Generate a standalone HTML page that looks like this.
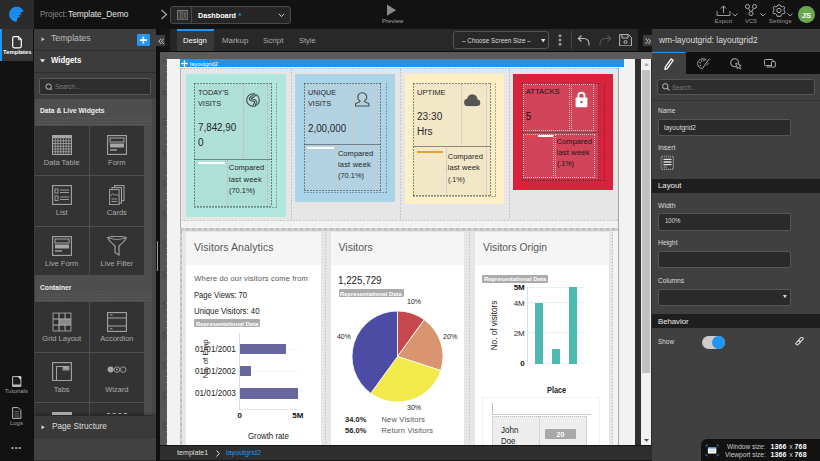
<!DOCTYPE html>
<html><head><meta charset="utf-8"><title>Dashboard</title>
<style>
*{margin:0;padding:0;box-sizing:border-box}
html,body{width:820px;height:461px;overflow:hidden;background:#121212;font-family:"Liberation Sans",Arial,sans-serif}
body>div,body>svg{position:absolute}
.t{white-space:nowrap}
</style></head><body>
<div style="left:0px;top:0px;width:820px;height:28.6px;background:#121212;"></div>
<div style="left:0px;top:0px;width:33.7px;height:28.6px;background:#2b2b2b;"></div>
<svg style="left:8px;top:5px;" width="18" height="18" viewBox="0 0 18 18"><path d="M9.5 1.75 A7.5 7.5 0 0 1 16.2 6.3 L16.4 6.6 L13.2 7.3 L14.3 9.3 L11.8 10 L12.5 12.3 L10.2 12.8 L9.2 16.8 A7.5 7.5 0 0 1 9.5 1.75 Z" fill="#1e8ff0" transform="translate(-0.7 0)"/>
<g fill="none" stroke="#1a74c8" stroke-width="0.55" opacity="0.9"><path d="M3.2 6.2 Q7.5 2.8 14.8 5.6"/><path d="M2.6 9.6 Q7 5.4 13.2 8.4"/><path d="M3.3 12.8 Q7.5 8.8 11.6 11.2"/></g></svg>
<div class="t" style="left:39.5px;top:10px;font-size:9px;line-height:9px;color:#8a8a8a;transform:scaleX(0.885);transform-origin:0 0;">Project:</div>
<div class="t" style="left:68.4px;top:10px;font-size:9px;line-height:9px;color:#e6e6e6;transform:scaleX(0.9218);transform-origin:0 0;">Template_Demo</div>
<svg style="left:160px;top:9px;" width="8" height="11" viewBox="0 0 8 11"><path d="M1.5 1 L6.5 5.5 L1.5 10" fill="none" stroke="#aaa" stroke-width="1.2"/></svg>
<div style="left:170.3px;top:6.3px;width:120.7px;height:17.6px;background:#262626;border:1px solid #4a4a4a;border-radius:3px;"></div>
<div style="left:191px;top:7px;width:1px;height:16.2px;background:#4a4a4a;"></div>
<svg style="left:176.9px;top:9.8px;" width="11.2" height="10.3" viewBox="0 0 11.2 10.3"><rect x="0.5" y="0.5" width="10.2" height="9.3" fill="#3a3a3a" stroke="#777" stroke-width="1"/><path d="M3.3 1 V9.5 M5.3 1 V9.5" stroke="#6a6a6a" stroke-width="1"/><path d="M6.8 2 L9.3 8.5 M9.3 2 L6.8 8.5" stroke="#6a6a6a" stroke-width="0.8"/></svg>
<div class="t" style="left:197.9px;top:12px;font-size:8px;line-height:8px;color:#ffffff;font-weight:bold;transform:scaleX(0.9071);transform-origin:0 0;">Dashboard</div>
<div class="t" style="left:238.3px;top:12px;font-size:8px;line-height:8px;color:#2196f3;font-weight:bold;">*</div>
<svg style="left:278px;top:13px;" width="7" height="5" viewBox="0 0 7 5"><path d="M0.8 0.8 L3.5 3.6 L6.2 0.8" fill="none" stroke="#ccc" stroke-width="1"/></svg>
<svg style="left:386px;top:4px;" width="11" height="13" viewBox="0 0 11 13"><path d="M1 0.6 L10 6.2 L1 11.8 Z" fill="#8a8a8a"/></svg>
<div class="t" style="left:381.8px;top:18px;font-size:6.2px;line-height:6.2px;color:#a6a6a6;transform:scaleX(0.9705);transform-origin:0 0;">Preview</div>
<svg style="left:716px;top:5px;" width="15" height="12" viewBox="0 0 15 12"><path d="M1 6 V10.5 H14 V6" fill="none" stroke="#a2a2a2" stroke-width="0.95"/><path d="M7.5 8 V1 M4.8 3.6 L7.5 0.9 L10.2 3.6" fill="none" stroke="#aaa" stroke-width="1"/></svg>
<svg style="left:732px;top:13px;" width="6" height="4" viewBox="0 0 6 4"><path d="M0.5 0.5 L3 3 L5.5 0.5" fill="none" stroke="#aaa" stroke-width="0.9"/></svg>
<div class="t" style="left:714.6px;top:18px;font-size:6px;line-height:6px;color:#9a9a9a;letter-spacing:0.043px;">Export</div>
<svg style="left:745px;top:4px;" width="12" height="12" viewBox="0 0 12 12"><circle cx="2.5" cy="2.5" r="2" fill="none" stroke="#aaa"/><circle cx="9.5" cy="2.5" r="2" fill="none" stroke="#aaa"/><circle cx="6" cy="9.5" r="2" fill="none" stroke="#aaa"/><path d="M3.5 4.2 L5.3 7.7 M8.5 4.2 L6.7 7.7" stroke="#aaa"/></svg>
<svg style="left:759.5px;top:13px;" width="6" height="4" viewBox="0 0 6 4"><path d="M0.5 0.5 L3 3 L5.5 0.5" fill="none" stroke="#aaa" stroke-width="0.9"/></svg>
<div class="t" style="left:745.0px;top:18px;font-size:6px;line-height:6px;color:#9a9a9a;transform:scaleX(0.9726);transform-origin:0 0;">VCS</div>
<svg style="left:772px;top:3.5px;" width="14" height="13" viewBox="0 0 14 13"><g transform="translate(7 6.5)" fill="none" stroke="#aaa" stroke-width="1"><circle r="2.2"/><path d="M-1.2 -5.6 L1.2 -5.6 L1.7 -4.2 L3.4 -3.6 L4.6 -4.4 L5.8 -2.6 L4.9 -1.5 L5.2 0.6 L6.2 1.6 L5.1 3.4 L3.6 3 L2.2 4.4 L2 5.8 L-2 5.8 L-2.2 4.4 L-3.6 3 L-5.1 3.4 L-6.2 1.6 L-5.2 0.6 L-4.9 -1.5 L-5.8 -2.6 L-4.6 -4.4 L-3.4 -3.6 L-1.7 -4.2 Z"/></g></svg>
<svg style="left:787px;top:13px;" width="6" height="4" viewBox="0 0 6 4"><path d="M0.5 0.5 L3 3 L5.5 0.5" fill="none" stroke="#aaa" stroke-width="0.9"/></svg>
<div class="t" style="left:768.85px;top:18px;font-size:6px;line-height:6px;color:#9a9a9a;letter-spacing:0.128px;">Settings</div>
<div style="left:798px;top:6.3px;width:16.6px;height:16.6px;border-radius:50%;background:#6aa84f"></div>
<div class="t" style="left:801.81px;top:12px;font-size:7.5px;line-height:7.5px;color:#ffffff;font-weight:bold;">JS</div>
<div style="left:0px;top:28.6px;width:33.5px;height:432.4px;background:#121212;"></div>
<div style="left:0px;top:29px;width:33px;height:31.6px;background:#363636;"></div>
<div style="left:0px;top:29px;width:1.6px;height:31.6px;background:#2196f3;"></div>
<svg style="left:12px;top:36px;" width="10" height="12.5" viewBox="0 0 10 12.5"><path d="M0.7 2.2 Q0.7 0.7 2.2 0.7 H6.5 L9.3 3.5 V10.3 Q9.3 11.8 7.8 11.8 H2.2 Q0.7 11.8 0.7 10.3 Z" fill="none" stroke="#fff" stroke-width="1.2"/><path d="M6.3 0.9 V3.7 H9.1" fill="none" stroke="#fff" stroke-width="0.9"/></svg>
<div class="t" style="left:2.6px;top:49px;font-size:6px;line-height:6px;color:#ffffff;font-weight:bold;transform:scaleX(0.9784);transform-origin:0 0;">Templates</div>
<svg style="left:12px;top:375.8px;" width="9.5" height="11.2" viewBox="0 0 9.5 11.2"><path d="M0.6 0.6 H8.9 V10.6 H0.6 Z" fill="#1a1a1a" stroke="#bdbdbd" stroke-width="1"/><path d="M0.6 9.3 H8.9" stroke="#bdbdbd" stroke-width="1.6"/><path d="M5.5 0.6 H8.9 V4 Z" fill="#e0e0e0"/></svg>
<div class="t" style="left:4.8px;top:388px;font-size:6px;line-height:6px;color:#a0a0a0;letter-spacing:0.046px;">Tutorials</div>
<svg style="left:12px;top:407px;" width="9.5" height="12" viewBox="0 0 9.5 12"><path d="M0.6 0.6 H6.2 L8.9 3.3 V11.4 H0.6 Z" fill="#1a1a1a" stroke="#b5b5b5" stroke-width="1"/><path d="M2.5 4.5 H7 M2.5 6.3 H7 M2.5 8.1 H7 M2.5 9.9 H7" stroke="#666" stroke-width="0.9"/></svg>
<div class="t" style="left:9.9px;top:420px;font-size:6px;line-height:6px;color:#a0a0a0;letter-spacing:-0.002px;">Logs</div>
<div class="t" style="left:11.0px;top:444px;font-size:8px;line-height:8px;color:#aaaaaa;letter-spacing:0.865px;">•••</div>
<div style="left:33.5px;top:28.6px;width:122.5px;height:432.4px;background:#3c3c3c;"></div>
<div style="left:33.5px;top:50.2px;width:122.5px;height:1.0px;background:#2e2e2e;"></div>
<div style="left:33.5px;top:72px;width:122.5px;height:1px;background:#2e2e2e;"></div>
<svg style="left:40.5px;top:36.6px;" width="4" height="5" viewBox="0 0 4 5"><path d="M0.5 0.3 L3.7 2.3 L0.5 4.3 Z" fill="#c8c8c8"/></svg>
<div class="t" style="left:51.3px;top:33px;font-size:9.5px;line-height:9.5px;color:#bdbdbd;transform:scaleX(0.9124);transform-origin:0 0;">Templates</div>
<div style="left:137.3px;top:33.7px;width:12.7px;height:12.3px;background:#2196f3;border-radius:1px;"></div>
<svg style="left:137.3px;top:33.7px;" width="12.7" height="12.3" viewBox="0 0 12.7 12.3"><path d="M6.35 2.6 V9.7 M2.8 6.15 H9.9" stroke="#fff" stroke-width="1.6"/></svg>
<svg style="left:39.8px;top:59px;" width="5" height="4" viewBox="0 0 5 4"><path d="M0 0.3 L5 0.3 L2.5 3.5 Z" fill="#fff"/></svg>
<div class="t" style="left:51.3px;top:55px;font-size:9.5px;line-height:9.5px;color:#ffffff;font-weight:bold;transform:scaleX(0.8221);transform-origin:0 0;">Widgets</div>
<div style="left:39px;top:78px;width:112px;height:16.5px;background:#2d2d2d;border:1px solid #585858;border-radius:2px;"></div>
<svg style="left:44.6px;top:82.6px;" width="7.5" height="7.5" viewBox="0 0 7.5 7.5"><circle cx="3.6" cy="3.6" r="2.7" fill="none" stroke="#c4c4c4" stroke-width="1"/><path d="M5.5 5.5 L6.6 6.6" stroke="#c4c4c4" stroke-width="1.1"/></svg>
<div class="t" style="left:55px;top:83px;font-size:7.5px;line-height:7.5px;color:#7a7a7a;transform:scaleX(0.843);transform-origin:0 0;">Search...</div>
<div style="left:34.6px;top:99.2px;width:117.8px;height:315.8px;background:#4e4e4e;"></div>
<div style="left:36px;top:116.5px;width:115px;height:9.0px;background:radial-gradient(circle, rgba(110,110,110,.45) 0.45px, transparent 0.75px) 0 0/2.05px 3px;"></div>
<div style="left:36px;top:292.5px;width:115px;height:9.0px;background:radial-gradient(circle, rgba(110,110,110,.45) 0.45px, transparent 0.75px) 0 0/2.05px 3px;"></div>
<div style="left:152.4px;top:99.2px;width:3.2px;height:315.8px;background:#464646;"></div>
<div class="t" style="left:40.1px;top:107px;font-size:7.5px;line-height:7.5px;color:#eeeeee;font-weight:bold;transform:scaleX(0.8969);transform-origin:0 0;">Data &amp; Live Widgets</div>
<div class="t" style="left:40.2px;top:284px;font-size:7.5px;line-height:7.5px;color:#eeeeee;font-weight:bold;transform:scaleX(0.8971);transform-origin:0 0;">Container</div>
<div style="left:34.6px;top:126px;width:54.2px;height:49px;background:#333333;"></div>
<div style="left:90px;top:126px;width:53.6px;height:49px;background:#333333;"></div>
<div class="t" style="left:43.84px;top:159px;font-size:7.5px;line-height:7.5px;color:#aaaaaa;">Data Table</div>
<div class="t" style="left:108.05px;top:159px;font-size:7.5px;line-height:7.5px;color:#aaaaaa;">Form</div>
<div style="left:34.6px;top:176px;width:54.2px;height:49.7px;background:#333333;"></div>
<div style="left:90px;top:176px;width:53.6px;height:49.7px;background:#333333;"></div>
<div class="t" style="left:55.86px;top:209px;font-size:7.5px;line-height:7.5px;color:#aaaaaa;">List</div>
<div class="t" style="left:106.8px;top:209px;font-size:7.5px;line-height:7.5px;color:#aaaaaa;">Cards</div>
<div style="left:34.6px;top:226.8px;width:54.2px;height:48.7px;background:#333333;"></div>
<div style="left:90px;top:226.8px;width:53.6px;height:48.7px;background:#333333;"></div>
<div class="t" style="left:45.03px;top:260px;font-size:7.5px;line-height:7.5px;color:#aaaaaa;">Live Form</div>
<div class="t" style="left:100.55px;top:260px;font-size:7.5px;line-height:7.5px;color:#aaaaaa;">Live Filter</div>
<div style="left:34.6px;top:302.2px;width:54.2px;height:49.4px;background:#333333;"></div>
<div style="left:90px;top:302.2px;width:53.6px;height:49.4px;background:#333333;"></div>
<div class="t" style="left:42.32px;top:335px;font-size:7.5px;line-height:7.5px;color:#aaaaaa;">Grid Layout</div>
<div class="t" style="left:100.13px;top:335px;font-size:7.5px;line-height:7.5px;color:#aaaaaa;">Accordion</div>
<div style="left:34.6px;top:352.6px;width:54.2px;height:49.0px;background:#333333;"></div>
<div style="left:90px;top:352.6px;width:53.6px;height:49.0px;background:#333333;"></div>
<div class="t" style="left:53.78px;top:386px;font-size:7.5px;line-height:7.5px;color:#aaaaaa;">Tabs</div>
<div class="t" style="left:105.13px;top:386px;font-size:7.5px;line-height:7.5px;color:#aaaaaa;">Wizard</div>
<div style="left:34.6px;top:403.2px;width:54.2px;height:48.8px;background:#333333;"></div>
<div style="left:90px;top:403.2px;width:53.6px;height:48.8px;background:#333333;"></div>
<div style="left:33.5px;top:415.9px;width:122.5px;height:21.3px;background:#3a3a3a;box-shadow:0 -2px 3px rgba(0,0,0,.25);"></div>
<div style="left:33.5px;top:437.2px;width:122.5px;height:23.8px;background:#414141;"></div>
<div style="left:33.5px;top:459.6px;width:122.5px;height:1.4px;background:#2c2c2c;"></div>
<div style="left:33.5px;top:437px;width:122.5px;height:1px;background:#333;"></div>
<svg style="left:40.5px;top:424.5px;" width="4" height="5" viewBox="0 0 4 5"><path d="M0.5 0.3 L3.7 2.3 L0.5 4.3 Z" fill="#ddd"/></svg>
<div class="t" style="left:51.5px;top:422px;font-size:9px;line-height:9px;color:#dddddd;transform:scaleX(0.9129);transform-origin:0 0;">Page Structure</div>
<div style="left:156px;top:28.6px;width:4px;height:432.4px;background:#101010;"></div>
<div style="left:156.7px;top:240.9px;width:1.8px;height:30.4px;background:#9a9a9a;border-radius:1px;"></div>
<div style="left:160px;top:28.6px;width:9.5px;height:22.4px;background:#161616;"></div>
<div style="left:169.5px;top:28.6px;width:7.0px;height:22.1px;background:#262626;"></div>
<div style="left:156.2px;top:35.4px;width:8.8px;height:11.1px;background:#3c3c3c;"></div>
<svg style="left:157.5px;top:37.6px;" width="6.5" height="6.5" viewBox="0 0 6.5 6.5"><path d="M3.2 0.5 L0.8 3.25 L3.2 6 M5.9 0.5 L3.5 3.25 L5.9 6" fill="none" stroke="#c8c8c8" stroke-width="1"/></svg>
<div style="left:176.5px;top:28.6px;width:461.2px;height:22.1px;background:#282828;"></div>
<div style="left:176.5px;top:28.9px;width:37.5px;height:21.8px;background:#383838;"></div>
<div style="left:176.5px;top:28.9px;width:37.5px;height:2.0px;background:#2196f3;"></div>
<div class="t" style="left:183.2px;top:37px;font-size:8px;line-height:8px;color:#ffffff;transform:scaleX(0.9558);transform-origin:0 0;">Design</div>
<div class="t" style="left:221.9px;top:37px;font-size:8px;line-height:8px;color:#aaaaaa;letter-spacing:-0.029px;">Markup</div>
<div class="t" style="left:263px;top:37px;font-size:8px;line-height:8px;color:#aaaaaa;letter-spacing:0.009px;">Script</div>
<div class="t" style="left:298.6px;top:37px;font-size:8px;line-height:8px;color:#aaaaaa;transform:scaleX(0.9334);transform-origin:0 0;">Style</div>
<div style="left:452.8px;top:31.4px;width:95.9px;height:17.3px;background:#282828;border:1px solid #555;border-radius:3px;"></div>
<div class="t" style="left:461.6px;top:37px;font-size:7px;line-height:7px;color:#dddddd;transform:scaleX(0.9114);transform-origin:0 0;">– Choose Screen Size –</div>
<svg style="left:540.5px;top:38.5px;" width="5" height="4" viewBox="0 0 5 4"><path d="M0 0 L4.4 0 L2.2 3.5 Z" fill="#ddd"/></svg>
<svg style="left:558px;top:34px;" width="4" height="12" viewBox="0 0 4 12"><circle cx="2" cy="1.8" r="1.5" fill="#999"/><circle cx="2" cy="6" r="1.5" fill="#999"/><circle cx="2" cy="10.2" r="1.5" fill="#999"/></svg>
<div style="left:571px;top:31px;width:1px;height:18px;background:#444;"></div>
<svg style="left:576px;top:34px;" width="15" height="12" viewBox="0 0 15 12"><path d="M3 4.5 H8 A5 5 0 0 1 13 9.5 V11.5" fill="none" stroke="#bbb" stroke-width="1.1"/><path d="M5.5 1.5 L2.3 4.5 L5.5 7.5" fill="none" stroke="#bbb" stroke-width="1.1"/></svg>
<svg style="left:597.5px;top:34px;" width="15" height="12" viewBox="0 0 15 12"><path d="M12 4.5 H7 A5 5 0 0 0 2 9.5 V11.5" fill="none" stroke="#555" stroke-width="1.1"/><path d="M9.5 1.5 L12.7 4.5 L9.5 7.5" fill="none" stroke="#555" stroke-width="1.1"/></svg>
<svg style="left:619px;top:33.5px;" width="13" height="12.5" viewBox="0 0 13 12.5"><path d="M0.6 0.6 H9.5 L12.4 3.5 V11.9 H0.6 Z" fill="none" stroke="#bbb" stroke-width="1"/><path d="M3 0.6 V4 H9 V0.6" fill="none" stroke="#bbb" stroke-width="1"/><circle cx="6.5" cy="8" r="1.5" fill="none" stroke="#bbb"/></svg>
<div style="left:637.7px;top:28.6px;width:14.2px;height:22.4px;background:#161616;"></div>
<div style="left:643px;top:34.8px;width:9px;height:11.0px;background:#3c3c3c;"></div>
<svg style="left:644.5px;top:37.6px;" width="6.5" height="6.5" viewBox="0 0 6.5 6.5"><path d="M0.6 0.5 L3 3.25 L0.6 6 M3.3 0.5 L5.7 3.25 L3.3 6" fill="none" stroke="#c8c8c8" stroke-width="1"/></svg>
<div style="left:160px;top:50.7px;width:491.9px;height:1.0px;background:#0c0c0c;"></div>
<div style="left:160px;top:51.7px;width:491.9px;height:7.3px;background:#5a5a5a;"></div>
<div style="left:160px;top:51.7px;width:7.4px;height:393.3px;background:#575757;"></div>
<div style="left:167.4px;top:59px;width:467.8px;height:386px;background:#f2f2f2;"></div>
<div style="left:635.2px;top:59px;width:5.8px;height:386px;background:#303030;"></div>
<div style="left:641px;top:59px;width:10.2px;height:386px;background:#f1f1f1;"></div>
<div style="left:651.2px;top:59px;width:0.7px;height:386px;background:#2a2a2a;"></div>
<div style="left:642.3px;top:69.8px;width:7.6px;height:302.8px;background:#c1c1c1;"></div>
<svg style="left:643.6px;top:63.3px;" width="5" height="3" viewBox="0 0 5 3"><path d="M0 2.8 L2.5 0 L5 2.8 Z" fill="#a3a3a3"/></svg>
<svg style="left:643.6px;top:438.6px;" width="5" height="3" viewBox="0 0 5 3"><path d="M0 0 L2.5 2.8 L5 0 Z" fill="#505050"/></svg>
<div style="left:160px;top:445px;width:491.9px;height:16px;background:#2e2e2e;"></div>
<div style="left:160px;top:445px;width:491.9px;height:1.3px;background:#151515;"></div>
<div style="left:160px;top:459.5px;width:491.9px;height:1.5px;background:#141414;"></div>
<div class="t" style="left:177.3px;top:449px;font-size:7.5px;line-height:7.5px;color:#dddddd;transform:scaleX(0.9504);transform-origin:0 0;">template1</div>
<svg style="left:215.5px;top:449.5px;" width="4" height="7" viewBox="0 0 4 7"><path d="M0.5 0.5 L3.3 3.5 L0.5 6.5" fill="none" stroke="#ddd" stroke-width="1"/></svg>
<div class="t" style="left:226px;top:449px;font-size:7.5px;line-height:7.5px;color:#2196f3;transform:scaleX(0.954);transform-origin:0 0;">layoutgrid2</div>
<div style="left:651.9px;top:28.6px;width:168.1px;height:432.4px;background:#404040;"></div>
<div style="left:651.9px;top:28.6px;width:168.1px;height:22.9px;background:#3a3a3a;"></div>
<div class="t" style="left:658.9px;top:36px;font-size:8.5px;line-height:8.5px;color:#dddddd;letter-spacing:-0.016px;">wm-layoutgrid: layoutgrid2</div>
<div style="left:651.9px;top:51.5px;width:33.6px;height:1.8px;background:#2196f3;"></div>
<div style="left:685.5px;top:51.5px;width:134.5px;height:22.0px;background:#111111;"></div>
<div style="left:651.9px;top:53.3px;width:33.6px;height:20.2px;background:#404040;"></div>
<div style="left:656.7px;top:78.6px;width:158.3px;height:16.6px;background:#2e2e2e;border:1px solid #555;border-radius:3px;"></div>
<svg style="left:662px;top:83px;" width="8" height="8" viewBox="0 0 8 8"><circle cx="3.3" cy="3.3" r="2.7" fill="none" stroke="#bbb" stroke-width="1"/><path d="M5.3 5.3 L7.4 7.4" stroke="#bbb" stroke-width="1.1"/></svg>
<div class="t" style="left:672px;top:84px;font-size:7px;line-height:7px;color:#7a7a7a;transform:scaleX(0.8568);transform-origin:0 0;">Search...</div>
<div style="left:651.9px;top:99.5px;width:168.1px;height:1.0px;background:#333;"></div>
<div class="t" style="left:658px;top:108px;font-size:6.8px;line-height:6.8px;color:#dddddd;transform:scaleX(0.9538);transform-origin:0 0;">Name</div>
<div style="left:658.2px;top:119.4px;width:132.6px;height:16.2px;background:#2a2a2a;border:1px solid #555;border-radius:2px;"></div>
<div class="t" style="left:664.4px;top:125px;font-size:6.8px;line-height:6.8px;color:#dddddd;transform:scaleX(0.962);transform-origin:0 0;">layoutgrid2</div>
<div class="t" style="left:658px;top:145px;font-size:6.8px;line-height:6.8px;color:#dddddd;letter-spacing:0.082px;">Insert</div>
<div style="left:659.8px;top:155.4px;width:14.2px;height:14.8px;background:#3a3a3a;border:1px solid #555;border-radius:2px;"></div>
<div style="left:651.9px;top:179.3px;width:168.1px;height:14.2px;background:#1e1e1e;"></div>
<div class="t" style="left:658px;top:182px;font-size:7.8px;line-height:7.8px;color:#eeeeee;letter-spacing:0.014px;">Layout</div>
<div class="t" style="left:658px;top:203px;font-size:6.8px;line-height:6.8px;color:#dddddd;letter-spacing:0.024px;">Width</div>
<div style="left:658.1px;top:213.2px;width:132.5px;height:17.4px;background:#2a2a2a;border:1px solid #555;border-radius:2px;"></div>
<div class="t" style="left:664.6px;top:218px;font-size:6.8px;line-height:6.8px;color:#dddddd;transform:scaleX(0.8913);transform-origin:0 0;">100%</div>
<div class="t" style="left:658px;top:240px;font-size:6.8px;line-height:6.8px;color:#dddddd;letter-spacing:-0.026px;">Height</div>
<div style="left:658.1px;top:251.4px;width:132.5px;height:16.4px;background:#2a2a2a;border:1px solid #555;border-radius:2px;"></div>
<div class="t" style="left:658px;top:278px;font-size:6.8px;line-height:6.8px;color:#dddddd;transform:scaleX(0.9691);transform-origin:0 0;">Columns</div>
<div style="left:658.2px;top:288.5px;width:132.6px;height:17.1px;background:#2a2a2a;border:1px solid #555;border-radius:2px;"></div>
<svg style="left:783.3px;top:295px;" width="4" height="3.5" viewBox="0 0 4 3.5"><path d="M0 0 L3.8 0 L1.9 3.2 Z" fill="#ddd"/></svg>
<div style="left:651.9px;top:314.1px;width:168.1px;height:13.5px;background:#1e1e1e;"></div>
<div class="t" style="left:658px;top:318px;font-size:7.8px;line-height:7.8px;color:#eeeeee;letter-spacing:-0.035px;">Behavior</div>
<div class="t" style="left:658px;top:339px;font-size:6.8px;line-height:6.8px;color:#dddddd;transform:scaleX(0.9406);transform-origin:0 0;">Show</div>
<div style="left:702px;top:335.9px;width:23px;height:13.0px;background:#cccccc;border-radius:7px;"></div>
<div style="left:711.6px;top:335.6px;width:13.4px;height:13.4px;border-radius:50%;background:#2196f3"></div>
<div style="left:700.5px;top:439px;width:119.5px;height:22px;background:#121212;border-top-left-radius:6px;"></div>
<svg style="left:705px;top:444px;" width="14.5" height="13" viewBox="0 0 14.5 13"><rect x="2.9" y="3.4" width="8.4" height="6.1" fill="#fff"/><rect x="2.9" y="3.4" width="8.4" height="1.1" fill="#2b7fd0"/><rect x="4.2" y="5.5" width="5.8" height="2.6" fill="#dcdcdc"/><g stroke="#3b8bd8" stroke-width="1" fill="none"><path d="M0.8 2.6 Q0.8 0.8 2.6 0.8 M11.5 0.8 Q13.3 0.8 13.3 2.6 M0.8 10.2 Q0.8 12 2.6 12 M11.5 12 Q13.3 12 13.3 10.2"/></g></svg>
<div class="t" style="left:727.3px;top:443px;font-size:7px;line-height:7px;color:#cccccc;transform:scaleX(0.9289);transform-origin:0 0;">Window size:</div>
<div class="t" style="left:724.9px;top:451px;font-size:7px;line-height:7px;color:#cccccc;transform:scaleX(0.9368);transform-origin:0 0;">Viewport size:</div>
<div class="t" style="left:770.5px;top:443px;font-size:7px;line-height:7px;color:#ffffff;font-weight:bold;letter-spacing:0.082px;">1366</div>
<div class="t" style="left:789.2px;top:443px;font-size:7px;line-height:7px;color:#cfcfcf;">x</div>
<div class="t" style="left:794.4px;top:443px;font-size:7px;line-height:7px;color:#ffffff;font-weight:bold;letter-spacing:0.274px;">768</div>
<div class="t" style="left:770.5px;top:451px;font-size:7px;line-height:7px;color:#ffffff;font-weight:bold;letter-spacing:0.082px;">1366</div>
<div class="t" style="left:789.2px;top:451px;font-size:7px;line-height:7px;color:#cfcfcf;">x</div>
<div class="t" style="left:794.4px;top:451px;font-size:7px;line-height:7px;color:#ffffff;font-weight:bold;letter-spacing:0.274px;">768</div>
<div style="left:181px;top:68px;width:437.5px;height:152.5px;background:#ebebeb;"></div>
<div style="left:182px;top:69px;width:436px;height:150.5px;background:radial-gradient(circle, rgba(222,222,222,1) 0.5px, transparent 0.85px) 0 0/2px 2px;"></div>
<div style="left:180.4px;top:67.8px;width:1.0px;height:162.2px;background:rgba(110,110,110,.5);"></div>
<div style="left:618.2px;top:67.8px;width:1.0px;height:377.2px;background:rgba(110,110,110,.55);"></div>
<div style="left:181px;top:67.8px;width:437.2px;height:1.0px;background:repeating-linear-gradient(to right, #c6c6c6 0 2px, transparent 2px 3px);"></div>
<div style="left:181px;top:219.8px;width:437.2px;height:1.0px;background:repeating-linear-gradient(to right, #cbcbcb 0 2px, transparent 2px 3.2px);"></div>
<div style="left:290.8px;top:69px;width:1.0px;height:150.8px;background:repeating-linear-gradient(to bottom, #c6c6c6 0 2px, transparent 2px 3.2px);"></div>
<div style="left:399.7px;top:69px;width:1.0px;height:150.8px;background:repeating-linear-gradient(to bottom, #c6c6c6 0 2px, transparent 2px 3.2px);"></div>
<div style="left:508.8px;top:69px;width:1.0px;height:150.8px;background:repeating-linear-gradient(to bottom, #c6c6c6 0 2px, transparent 2px 3.2px);"></div>
<div style="left:181px;top:220.8px;width:437.2px;height:7.4px;background:#f2f2f2;"></div>
<div style="left:180.4px;top:228.2px;width:437.8px;height:2.8px;background:#d2d2d2;"></div>
<div style="left:180.4px;top:228.2px;width:437.8px;height:2.8px;background:repeating-linear-gradient(to right, rgba(150,150,150,.3) 0 3px, transparent 3px 6px);"></div>
<div style="left:180.4px;top:231px;width:1.6px;height:214px;background:#d2d2d2;"></div>
<div style="left:180.4px;top:231px;width:1.6px;height:214px;background:repeating-linear-gradient(to bottom, rgba(150,150,150,.3) 0 3px, transparent 3px 6px);"></div>
<div style="left:182px;top:231px;width:431.2px;height:214px;background:#e6e6e6;"></div>
<div style="left:613.2px;top:231px;width:5.0px;height:214px;background:#f3f3f3;"></div>
<div style="left:325px;top:231.5px;width:1px;height:213.5px;background:repeating-linear-gradient(to bottom, #b8b8b8 0 0.9px, transparent 0.9px 3.0px);"></div>
<div style="left:469.1px;top:231.5px;width:1.0px;height:213.5px;background:repeating-linear-gradient(to bottom, #b8b8b8 0 0.9px, transparent 0.9px 3.0px);"></div>
<div style="left:612.2px;top:231.5px;width:1.0px;height:213.5px;background:repeating-linear-gradient(to bottom, #b8b8b8 0 0.9px, transparent 0.9px 3.0px);"></div>
<div style="left:180px;top:59.4px;width:444px;height:7.9px;background:#1d93f0;"></div>
<svg style="left:181px;top:60px;" width="7" height="7" viewBox="0 0 7 7"><path d="M3.5 0.8 V6.2 M0.8 3.5 H6.2" stroke="#fff" stroke-width="1.1"/><path d="M3.5 0 L5 1.6 H2 Z M3.5 7 L5 5.4 H2 Z M0 3.5 L1.6 2 V5 Z M7 3.5 L5.4 2 V5 Z" fill="#fff"/></svg>
<div class="t" style="left:189.7px;top:61px;font-size:6px;line-height:6px;color:#ffffff;transform:scaleX(0.9472);transform-origin:0 0;">layoutgrid2</div>
<div style="left:185.5px;top:74px;width:100.5px;height:142.6px;background:#b0e8e0;"></div>
<div style="left:194.0px;top:82.6px;width:77.5px;height:123.9px;background:#afe0d8;"></div>
<div style="left:275.8px;top:82.6px;width:1.0px;height:124.9px;background:repeating-linear-gradient(to bottom, rgba(40,40,40,.35) 0 2px, transparent 2px 3px);"></div>
<div style="left:194.0px;top:206.8px;width:82.8px;height:1.0px;background:repeating-linear-gradient(to right, rgba(40,40,40,.35) 0 2px, transparent 2px 3px);"></div>
<div style="left:194.0px;top:82.6px;width:77.5px;height:1.0px;background:repeating-linear-gradient(to right, rgba(40,40,40,.5) 0 2px, transparent 2px 3px);"></div>
<div style="left:194.0px;top:205.5px;width:77.5px;height:1.0px;background:repeating-linear-gradient(to right, rgba(40,40,40,.5) 0 2px, transparent 2px 3px);"></div>
<div style="left:194.0px;top:82.6px;width:1.0px;height:123.9px;background:repeating-linear-gradient(to bottom, rgba(40,40,40,.5) 0 2.2px, transparent 2.2px 3.0px);"></div>
<div style="left:270.5px;top:82.6px;width:1.0px;height:123.9px;background:repeating-linear-gradient(to bottom, rgba(40,40,40,.5) 0 2px, transparent 2px 3px);"></div>
<div style="left:194.0px;top:158.5px;width:77.5px;height:1.1px;background:rgba(60,60,60,.55);"></div>
<div style="left:242.6px;top:84px;width:1.0px;height:74px;border-left:1px dotted rgba(215,150,170,.75);"></div>
<div style="left:267px;top:84px;width:1px;height:74px;border-left:1px dotted rgba(215,150,170,.75);"></div>
<div style="left:226.9px;top:160px;width:1.0px;height:45.5px;border-left:1px dotted rgba(215,150,170,.75);"></div>
<div style="left:267px;top:160px;width:1px;height:45.5px;border-left:1px dotted rgba(215,150,170,.75);"></div>
<div class="t" style="left:198.0px;top:89px;font-size:7.6px;line-height:7.6px;color:#262626;transform:scaleX(0.9594);transform-origin:0 0;">TODAY'S</div>
<div class="t" style="left:198.0px;top:100px;font-size:7.6px;line-height:7.6px;color:#262626;transform:scaleX(0.9596);transform-origin:0 0;">VISITS</div>
<div class="t" style="left:198.0px;top:123px;font-size:10px;line-height:10px;color:#262626;transform:scaleX(0.9815);transform-origin:0 0;">7,842,90</div>
<div class="t" style="left:198.0px;top:138px;font-size:10px;line-height:10px;color:#262626;">0</div>
<div class="t" style="left:228.8px;top:164px;font-size:7.6px;line-height:7.6px;color:#262626;letter-spacing:-0.01px;">Compared</div>
<div class="t" style="left:228.8px;top:176px;font-size:7.6px;line-height:7.6px;color:#262626;letter-spacing:0.169px;">last week</div>
<div class="t" style="left:228.8px;top:187px;font-size:7.6px;line-height:7.6px;color:#262626;transform:scaleX(0.9809);transform-origin:0 0;">(70.1%)</div>
<div style="left:295.3px;top:74px;width:99.4px;height:127.5px;background:#acd4e8;"></div>
<div style="left:303.8px;top:82.6px;width:77.5px;height:108.7px;background:#b2d2e2;"></div>
<div style="left:385.6px;top:82.6px;width:1.0px;height:109.7px;background:repeating-linear-gradient(to bottom, rgba(40,40,40,.35) 0 2px, transparent 2px 3px);"></div>
<div style="left:303.8px;top:191.60000000000002px;width:82.8px;height:1.0px;background:repeating-linear-gradient(to right, rgba(40,40,40,.35) 0 2px, transparent 2px 3px);"></div>
<div style="left:303.8px;top:82.6px;width:77.5px;height:1.0px;background:repeating-linear-gradient(to right, rgba(40,40,40,.5) 0 2px, transparent 2px 3px);"></div>
<div style="left:303.8px;top:190.3px;width:77.5px;height:1.0px;background:repeating-linear-gradient(to right, rgba(40,40,40,.5) 0 2px, transparent 2px 3px);"></div>
<div style="left:303.8px;top:82.6px;width:1.0px;height:108.7px;background:repeating-linear-gradient(to bottom, rgba(40,40,40,.5) 0 2.2px, transparent 2.2px 3.0px);"></div>
<div style="left:380.3px;top:82.6px;width:1.0px;height:108.7px;background:repeating-linear-gradient(to bottom, rgba(40,40,40,.5) 0 2px, transparent 2px 3px);"></div>
<div style="left:303.8px;top:143.9px;width:77.5px;height:1.1px;background:rgba(60,60,60,.55);"></div>
<div style="left:352px;top:84px;width:1px;height:59.4px;border-left:1px dotted rgba(235,195,150,.8);"></div>
<div style="left:377px;top:84px;width:1px;height:59.4px;border-left:1px dotted rgba(235,195,150,.8);"></div>
<div style="left:336.3px;top:145.4px;width:1.0px;height:44.9px;border-left:1px dotted rgba(235,195,150,.8);"></div>
<div style="left:377px;top:145.4px;width:1px;height:44.9px;border-left:1px dotted rgba(235,195,150,.8);"></div>
<div class="t" style="left:307.8px;top:89px;font-size:7.6px;line-height:7.6px;color:#262626;transform:scaleX(0.9507);transform-origin:0 0;">UNIQUE</div>
<div class="t" style="left:307.8px;top:100px;font-size:7.6px;line-height:7.6px;color:#262626;transform:scaleX(0.9596);transform-origin:0 0;">VISITS</div>
<div class="t" style="left:307.8px;top:124px;font-size:10px;line-height:10px;color:#262626;transform:scaleX(0.9789);transform-origin:0 0;">2,00,000</div>
<div class="t" style="left:337.9px;top:150px;font-size:7.6px;line-height:7.6px;color:#262626;letter-spacing:-0.01px;">Compared</div>
<div class="t" style="left:337.9px;top:161px;font-size:7.6px;line-height:7.6px;color:#262626;letter-spacing:0.169px;">last week</div>
<div class="t" style="left:337.9px;top:172px;font-size:7.6px;line-height:7.6px;color:#262626;transform:scaleX(0.9809);transform-origin:0 0;">(70.1%)</div>
<div style="left:404.5px;top:74px;width:99.8px;height:130px;background:#fcf0c4;"></div>
<div style="left:413.0px;top:82.6px;width:77.5px;height:113.1px;background:#f2e8c8;"></div>
<div style="left:494.8px;top:82.6px;width:1.0px;height:114.1px;background:repeating-linear-gradient(to bottom, rgba(40,40,40,.35) 0 2px, transparent 2px 3px);"></div>
<div style="left:413.0px;top:196.0px;width:82.8px;height:1.0px;background:repeating-linear-gradient(to right, rgba(40,40,40,.35) 0 2px, transparent 2px 3px);"></div>
<div style="left:413.0px;top:82.6px;width:77.5px;height:1.0px;background:repeating-linear-gradient(to right, rgba(40,40,40,.5) 0 2px, transparent 2px 3px);"></div>
<div style="left:413.0px;top:194.7px;width:77.5px;height:1.0px;background:repeating-linear-gradient(to right, rgba(40,40,40,.5) 0 2px, transparent 2px 3px);"></div>
<div style="left:413.0px;top:82.6px;width:1.0px;height:113.1px;background:repeating-linear-gradient(to bottom, rgba(40,40,40,.5) 0 2.2px, transparent 2.2px 3.0px);"></div>
<div style="left:489.5px;top:82.6px;width:1.0px;height:113.1px;background:repeating-linear-gradient(to bottom, rgba(40,40,40,.5) 0 2px, transparent 2px 3px);"></div>
<div style="left:413.0px;top:146.1px;width:77.5px;height:1.1px;background:rgba(60,60,60,.55);"></div>
<div style="left:461.2px;top:84px;width:1.0px;height:61.6px;border-left:1px dotted rgba(150,160,210,.6);"></div>
<div style="left:485.7px;top:84px;width:1.0px;height:61.6px;border-left:1px dotted rgba(150,160,210,.6);"></div>
<div style="left:445.7px;top:147.6px;width:1.0px;height:47.1px;border-left:1px dotted rgba(150,160,210,.6);"></div>
<div style="left:485.7px;top:147.6px;width:1.0px;height:47.1px;border-left:1px dotted rgba(150,160,210,.6);"></div>
<div class="t" style="left:417.0px;top:89px;font-size:7.6px;line-height:7.6px;color:#262626;letter-spacing:-0.002px;">UPTIME</div>
<div class="t" style="left:417.0px;top:112px;font-size:10px;line-height:10px;color:#262626;letter-spacing:0.056px;">23:30</div>
<div class="t" style="left:417.0px;top:127px;font-size:10px;line-height:10px;color:#262626;letter-spacing:-0.017px;">Hrs</div>
<div class="t" style="left:447.7px;top:153px;font-size:7.6px;line-height:7.6px;color:#262626;letter-spacing:-0.035px;">Compared</div>
<div class="t" style="left:447.7px;top:164px;font-size:7.6px;line-height:7.6px;color:#262626;letter-spacing:0.069px;">last week</div>
<div class="t" style="left:447.7px;top:176px;font-size:7.6px;line-height:7.6px;color:#262626;transform:scaleX(0.9308);transform-origin:0 0;">(.1%)</div>
<div style="left:513.3px;top:74px;width:100.2px;height:115.8px;background:#d9233c;"></div>
<div style="left:521.8px;top:82.6px;width:77.5px;height:97.1px;background:#d24459;"></div>
<div style="left:603.5999999999999px;top:82.6px;width:1.0px;height:98.1px;background:repeating-linear-gradient(to bottom, rgba(40,40,40,.35) 0 2px, transparent 2px 3px);"></div>
<div style="left:521.8px;top:180.0px;width:82.8px;height:1.0px;background:repeating-linear-gradient(to right, rgba(40,40,40,.35) 0 2px, transparent 2px 3px);"></div>
<div style="left:521.8px;top:82.6px;width:77.5px;height:1.0px;background:repeating-linear-gradient(to right, rgba(40,40,40,.5) 0 2px, transparent 2px 3px);"></div>
<div style="left:521.8px;top:178.7px;width:77.5px;height:1.0px;background:repeating-linear-gradient(to right, rgba(40,40,40,.5) 0 2px, transparent 2px 3px);"></div>
<div style="left:521.8px;top:82.6px;width:1.0px;height:97.1px;background:repeating-linear-gradient(to bottom, rgba(40,40,40,.5) 0 2.2px, transparent 2.2px 3.0px);"></div>
<div style="left:598.3px;top:82.6px;width:1.0px;height:97.1px;background:repeating-linear-gradient(to bottom, rgba(40,40,40,.5) 0 2px, transparent 2px 3px);"></div>
<div style="left:521.8px;top:131.8px;width:77.5px;height:1.1px;background:rgba(60,60,60,.55);"></div>
<div style="left:523.3px;top:84.2px;width:47.2px;height:46.7px;border:1px dotted rgba(255,255,255,.6);"></div>
<div style="left:571.3px;top:84.2px;width:23.2px;height:46.7px;border:1px dotted rgba(255,255,255,.6);"></div>
<div style="left:523.3px;top:134.10000000000002px;width:30.9px;height:44.4px;border:1px dotted rgba(255,255,255,.6);"></div>
<div style="left:555.0px;top:134.10000000000002px;width:39.5px;height:44.4px;border:1px dotted rgba(255,255,255,.6);"></div>
<div class="t" style="left:525.8px;top:88px;font-size:7.6px;line-height:7.6px;color:#161616;letter-spacing:-0.003px;">ATTACKS</div>
<div class="t" style="left:525.8px;top:112px;font-size:10px;line-height:10px;color:#161616;">5</div>
<div class="t" style="left:556.6px;top:138px;font-size:7.6px;line-height:7.6px;color:#161616;letter-spacing:0.002px;">Compared</div>
<div class="t" style="left:556.6px;top:149px;font-size:7.6px;line-height:7.6px;color:#161616;letter-spacing:0.147px;">last week</div>
<div class="t" style="left:556.6px;top:160px;font-size:7.6px;line-height:7.6px;color:#161616;transform:scaleX(0.9363);transform-origin:0 0;">(.1%)</div>
<div style="left:198px;top:162.3px;width:27px;height:2.0px;background:#ffffff;"></div>
<div style="left:307.2px;top:147.4px;width:27.2px;height:2.0px;background:#ffffff;"></div>
<div style="left:416.5px;top:151.2px;width:26.2px;height:2.0px;background:#f0a020;"></div>
<div style="left:525.7px;top:135px;width:12.7px;height:2.2px;background:#f04040;"></div>
<div style="left:538.4px;top:135px;width:14.4px;height:2.2px;background:#ffffff;"></div>
<svg style="left:245.07px;top:91.7px;" width="16" height="16" viewBox="0 0 16 16"><g transform="translate(8 8)" fill="none"><circle r="6.3" stroke="#4a4a4a" stroke-width="1.15"/><path d="M2.4 -5.9 C1.2 -3.6, -1.6 -3.2, -2.6 -1.6 C-3.2 0, 0 0.2, 1.6 0.7 C3.2 1.3, 2.4 3.2, 1.6 4.4 L0.9 6.6" stroke="#4a4a4a" stroke-width="2.9"/><path d="M2.4 -5.9 C1.2 -3.6, -1.6 -3.2, -2.6 -1.6 C-3.2 0, 0 0.2, 1.6 0.7 C3.2 1.3, 2.4 3.2, 1.6 4.4 L0.9 6.6" stroke="#aee6dc" stroke-width="0.9"/></g></svg>
<svg style="left:355px;top:92.2px;" width="15" height="15" viewBox="0 0 15 15"><path d="M5.2 9.2 A4.5 4.5 0 1 1 9.3 9.2 Q10 10.3 13.4 11.2 Q13.9 11.4 13.9 12 V14 H0.6 V12 Q0.6 11.4 1.1 11.2 Q4.5 10.3 5.2 9.2 Z" fill="none" stroke="#4a4a4a" stroke-width="1.1"/></svg>
<svg style="left:462.5px;top:92.5px;" width="19" height="14" viewBox="0 0 19 14"><g fill="#555"><circle cx="9.3" cy="6.5" r="5.2"/><circle cx="4.8" cy="9.4" r="3.7"/><circle cx="14" cy="9.7" r="3.3"/><rect x="4.8" y="8" width="9.2" height="5.1"/></g></svg>
<svg style="left:574.5px;top:90.5px;" width="13" height="17" viewBox="0 0 13 17"><path d="M3.4 6.8 V4.8 A3.05 3.05 0 0 1 9.5 4.8 V6.8" fill="none" stroke="#fff" stroke-width="1.9"/><rect x="0.6" y="6.4" width="11.8" height="9.9" rx="0.8" fill="#fff"/><circle cx="6.4" cy="10.9" r="1.2" fill="#d24459"/></svg>
<div style="left:186px;top:231.5px;width:134.5px;height:33.5px;background:#f5f5f5;"></div>
<div style="left:186px;top:265px;width:134.5px;height:180px;background:#ffffff;"></div>
<div class="t" style="left:194px;top:242px;font-size:10.5px;line-height:10.5px;color:#555555;letter-spacing:0.051px;">Visitors Analytics</div>
<div style="left:330.5px;top:231.5px;width:133.9px;height:33.5px;background:#f5f5f5;"></div>
<div style="left:330.5px;top:265px;width:133.9px;height:180px;background:#ffffff;"></div>
<div class="t" style="left:338.5px;top:242px;font-size:10.5px;line-height:10.5px;color:#555555;letter-spacing:0.009px;">Visitors</div>
<div style="left:474.9px;top:231.5px;width:134.0px;height:33.5px;background:#f5f5f5;"></div>
<div style="left:474.9px;top:265px;width:134.0px;height:180px;background:#ffffff;"></div>
<div class="t" style="left:482.9px;top:242px;font-size:10.5px;line-height:10.5px;color:#555555;transform:scaleX(0.9823);transform-origin:0 0;">Visitors Origin</div>
<div class="t" style="left:194.3px;top:275px;font-size:7.5px;line-height:7.5px;color:#555555;letter-spacing:0.172px;">Where do our visitors come from</div>
<div class="t" style="left:194.3px;top:291px;font-size:8.3px;line-height:8.3px;color:#222222;transform:scaleX(0.9214);transform-origin:0 0;">Page Views: 70</div>
<div class="t" style="left:194.3px;top:307px;font-size:8.3px;line-height:8.3px;color:#222222;transform:scaleX(0.9438);transform-origin:0 0;">Unique Visitors: 40</div>
<div style="left:194.3px;top:319.4px;width:65.7px;height:7.9px;background:#ababab;border-radius:1px;"></div>
<div class="t" style="left:195.9px;top:321px;font-size:6px;line-height:6px;color:#ffffff;font-weight:bold;letter-spacing:-0.04px;">Representational Data</div>
<div style="left:239.3px;top:333px;width:1.0px;height:76.6px;background:#cfe3e3;"></div>
<div style="left:240.3px;top:349px;width:57.7px;height:0.6px;background:#eef5f5;"></div>
<div style="left:240.3px;top:371.4px;width:57.7px;height:0.6px;background:#eef5f5;"></div>
<div style="left:240.3px;top:393.5px;width:57.7px;height:0.6px;background:#eef5f5;"></div>
<div style="left:239.3px;top:409px;width:58.7px;height:0.6px;background:#e0eaea;"></div>
<div style="left:240.3px;top:344px;width:45.9px;height:10.3px;background:#67679e;"></div>
<div style="left:240.3px;top:366.2px;width:10.6px;height:10.3px;background:#67679e;"></div>
<div style="left:240.3px;top:388.2px;width:57.6px;height:10.6px;background:#67679e;"></div>
<div class="t" style="left:194.5px;top:345px;font-size:8.4px;line-height:8.4px;color:#222222;transform:scaleX(0.9753);transform-origin:0 0;">01/01/2001</div>
<div class="t" style="left:194.5px;top:367px;font-size:8.4px;line-height:8.4px;color:#222222;transform:scaleX(0.9753);transform-origin:0 0;">01/01/2002</div>
<div class="t" style="left:194.5px;top:389px;font-size:8.4px;line-height:8.4px;color:#222222;transform:scaleX(0.9753);transform-origin:0 0;">01/01/2003</div>
<div class="t" style="left:186px;top:355px;width:38px;height:9px;font-size:8px;line-height:9px;color:#222;transform:rotate(-90deg);text-align:center;letter-spacing:-0.1px">No. of Emp</div>
<div class="t" style="left:237.6px;top:412px;font-size:8px;line-height:8px;color:#111111;font-weight:bold;">0</div>
<div class="t" style="left:292.2px;top:412px;font-size:8px;line-height:8px;color:#111111;font-weight:bold;letter-spacing:0.144px;">5M</div>
<div class="t" style="left:248px;top:432px;font-size:8.3px;line-height:8.3px;color:#222222;transform:scaleX(0.9433);transform-origin:0 0;">Growth rate</div>
<div class="t" style="left:338.2px;top:276px;font-size:10px;line-height:10px;color:#222222;transform:scaleX(0.9779);transform-origin:0 0;">1,225,729</div>
<div style="left:338.7px;top:289.4px;width:65.0px;height:7.9px;background:#ababab;border-radius:1px;"></div>
<div class="t" style="left:340.3px;top:291px;font-size:6px;line-height:6px;color:#ffffff;font-weight:bold;transform:scaleX(0.9756);transform-origin:0 0;">Representational Data</div>
<svg style="left:352.0px;top:311.0px;" width="91.0" height="91.0" viewBox="0 0 91.0 91.0"><path d="M45.5 45.5 L45.50 0.00 A45.5 45.5 0 0 1 72.24 8.69 Z" fill="#c4484c" stroke="#fff" stroke-width="0.8"/><path d="M45.5 45.5 L72.24 8.69 A45.5 45.5 0 0 1 88.77 59.56 Z" fill="#d99470" stroke="#fff" stroke-width="0.8"/><path d="M45.5 45.5 L88.77 59.56 A45.5 45.5 0 0 1 18.76 82.31 Z" fill="#f2e94a" stroke="#fff" stroke-width="0.8"/><path d="M45.5 45.5 L18.76 82.31 A45.5 45.5 0 0 1 45.50 0.00 Z" fill="#4c4ca4" stroke="#fff" stroke-width="0.8"/></svg>
<div class="t" style="left:407.4px;top:298px;font-size:7.5px;line-height:7.5px;color:#222222;transform:scaleX(0.9393);transform-origin:0 0;">10%</div>
<div class="t" style="left:442.8px;top:333px;font-size:7.5px;line-height:7.5px;color:#222222;transform:scaleX(0.9593);transform-origin:0 0;">20%</div>
<div class="t" style="left:407.4px;top:404px;font-size:7.5px;line-height:7.5px;color:#222222;transform:scaleX(0.9393);transform-origin:0 0;">30%</div>
<div class="t" style="left:337.4px;top:333px;font-size:7.5px;line-height:7.5px;color:#222222;transform:scaleX(0.9194);transform-origin:0 0;">40%</div>
<div class="t" style="left:345.1px;top:416px;font-size:7.5px;line-height:7.5px;color:#222222;font-weight:bold;letter-spacing:0.007px;">34.0%</div>
<div class="t" style="left:345.1px;top:427px;font-size:7.5px;line-height:7.5px;color:#222222;font-weight:bold;letter-spacing:0.007px;">56.0%</div>
<div class="t" style="left:381.5px;top:416px;font-size:7.5px;line-height:7.5px;color:#555555;letter-spacing:0.188px;">New Visitors</div>
<div class="t" style="left:381.5px;top:427px;font-size:7.5px;line-height:7.5px;color:#555555;letter-spacing:0.184px;">Return Visitors</div>
<div style="left:482.4px;top:275px;width:65.3px;height:7.6px;background:#ababab;border-radius:1px;"></div>
<div class="t" style="left:484.0px;top:276px;font-size:6px;line-height:6px;color:#ffffff;font-weight:bold;transform:scaleX(0.9803);transform-origin:0 0;">Representational Data</div>
<div style="left:526.7px;top:287px;width:1.0px;height:77px;background:#cfe3e3;"></div>
<div style="left:527.7px;top:287.2px;width:57.5px;height:0.6px;background:#e3f1f1;"></div>
<div style="left:527.7px;top:301.8px;width:57.5px;height:0.6px;background:#e3f1f1;"></div>
<div style="left:527.7px;top:331.6px;width:57.5px;height:0.6px;background:#e3f1f1;"></div>
<div style="left:527.7px;top:363.4px;width:57.5px;height:0.6px;background:#e3f1f1;"></div>
<div style="left:535.2px;top:302.5px;width:7.8px;height:61.3px;background:#4cbab0;"></div>
<div style="left:552.1px;top:348.7px;width:7.9px;height:15.1px;background:#4cbab0;"></div>
<div style="left:569px;top:287.4px;width:7.9px;height:76.4px;background:#4cbab0;"></div>
<div class="t" style="left:513.7px;top:284px;font-size:8px;line-height:8px;color:#111111;font-weight:bold;letter-spacing:-0.256px;">5M</div>
<div class="t" style="left:513.7px;top:300px;font-size:8px;line-height:8px;color:#2a2a2a;letter-spacing:-0.256px;">4M</div>
<div class="t" style="left:513.7px;top:330px;font-size:8px;line-height:8px;color:#2a2a2a;letter-spacing:-0.256px;">2M</div>
<div class="t" style="left:520.15px;top:360px;font-size:8px;line-height:8px;color:#111111;font-weight:bold;">0</div>
<div class="t" style="left:547px;top:386px;font-size:8.4px;line-height:8.4px;color:#222222;font-weight:bold;transform:scaleX(0.8747);transform-origin:0 0;">Place</div>
<div class="t" style="left:467.5px;top:321.3px;width:53px;height:9px;font-size:8.2px;line-height:9px;color:#222;transform:rotate(-90deg);text-align:center">No. of visitors</div>
<div style="left:481.9px;top:397.1px;width:118.4px;height:47.9px;background:#ffffff;border:1px dotted #e6e6e6;border-bottom:none;"></div>
<div style="left:491.5px;top:402.8px;width:1.0px;height:11.7px;background:#bbbbbb;"></div>
<div style="left:491.5px;top:414px;width:99.7px;height:1px;background:#cccccc;"></div>
<div style="left:492.3px;top:415.8px;width:94.4px;height:29.2px;background:#ededed;border:1px dotted #bdbdbd;border-bottom:none;"></div>
<div style="left:538.6px;top:416px;width:1.0px;height:29px;border-left:1px dotted #bdbdbd;"></div>
<div class="t" style="left:500.6px;top:426px;font-size:8.4px;line-height:8.4px;color:#222222;transform:scaleX(0.9608);transform-origin:0 0;">John</div>
<div class="t" style="left:500.6px;top:437px;font-size:8.4px;line-height:8.4px;color:#222222;transform:scaleX(0.941);transform-origin:0 0;">Doe</div>
<div style="left:545.1px;top:428.9px;width:30.7px;height:9.8px;background:#a8a8a8;border-radius:1px;"></div>
<div class="t" style="left:556.51px;top:431px;font-size:7px;line-height:7px;color:#ffffff;font-weight:bold;">20</div>
<svg style="left:51.9px;top:134.7px;" width="20" height="20" viewBox="0 0 20 20"><rect x="0.5" y="0.5" width="19" height="19" fill="#3a3a3a" stroke="#a6a6a6" stroke-width="1"/><rect x="0.5" y="0.5" width="19" height="2.6" fill="#a6a6a6"/><path d="M3.22 3 V19.5" stroke="#a6a6a6" stroke-width="0.8"/><path d="M5.94 3 V19.5" stroke="#a6a6a6" stroke-width="0.8"/><path d="M8.66 3 V19.5" stroke="#a6a6a6" stroke-width="0.8"/><path d="M11.38 3 V19.5" stroke="#a6a6a6" stroke-width="0.8"/><path d="M14.10 3 V19.5" stroke="#a6a6a6" stroke-width="0.8"/><path d="M16.82 3 V19.5" stroke="#a6a6a6" stroke-width="0.8"/><path d="M0.5 5.75 H19.5" stroke="#a6a6a6" stroke-width="0.8"/><path d="M0.5 8.50 H19.5" stroke="#a6a6a6" stroke-width="0.8"/><path d="M0.5 11.25 H19.5" stroke="#a6a6a6" stroke-width="0.8"/><path d="M0.5 14.00 H19.5" stroke="#a6a6a6" stroke-width="0.8"/><path d="M0.5 16.75 H19.5" stroke="#a6a6a6" stroke-width="0.8"/></svg>
<svg style="left:107.2px;top:134.7px;" width="20" height="20" viewBox="0 0 20 20"><rect x="0.6" y="0.6" width="18.8" height="18.8" fill="none" stroke="#a6a6a6" stroke-width="1.1"/><rect x="3" y="3" width="14" height="4" fill="none" stroke="#a6a6a6" stroke-width="1"/><rect x="3" y="8.5" width="14" height="4" fill="#a6a6a6"/><path d="M3 15 H10" stroke="#a6a6a6" stroke-width="1.4"/></svg>
<svg style="left:51.9px;top:185px;" width="20" height="20" viewBox="0 0 20 20"><rect x="0.6" y="0.6" width="18.8" height="18.8" fill="none" stroke="#a6a6a6" stroke-width="1.1"/><rect x="3" y="4" width="3" height="4" fill="none" stroke="#a6a6a6" stroke-width="0.9"/><rect x="3" y="11" width="3" height="4.5" fill="none" stroke="#a6a6a6" stroke-width="0.9"/><path d="M8 5 H17 M8 7.5 H17 M8 12 H17 M8 14.5 H17" stroke="#a6a6a6" stroke-width="0.9"/></svg>
<svg style="left:109.2px;top:185px;" width="16" height="20" viewBox="0 0 16 20"><rect x="5.5" y="0.6" width="9.5" height="15" fill="#333" stroke="#a6a6a6" stroke-width="1"/><rect x="3" y="2.6" width="9.5" height="15.5" fill="#333" stroke="#a6a6a6" stroke-width="1"/><rect x="0.6" y="4.6" width="9.5" height="15" fill="#333" stroke="#a6a6a6" stroke-width="1"/><path d="M1.5 11 L4 8.5 L6 10.5 L7.5 9 L9.5 11" fill="none" stroke="#a6a6a6" stroke-width="0.9"/><path d="M2.5 14 H8 M2.5 16.5 H8" stroke="#a6a6a6" stroke-width="0.9"/></svg>
<svg style="left:51.9px;top:235.8px;" width="20" height="20" viewBox="0 0 20 20"><rect x="0.6" y="0.6" width="18.8" height="18.8" fill="none" stroke="#a6a6a6" stroke-width="1.1"/><rect x="3" y="3" width="14" height="4" fill="none" stroke="#a6a6a6" stroke-width="1"/><rect x="3" y="8.5" width="14" height="4" fill="#a6a6a6"/><path d="M3 15 H10" stroke="#a6a6a6" stroke-width="1.4"/></svg>
<svg style="left:107.2px;top:235.8px;" width="20" height="20" viewBox="0 0 20 20"><path d="M0.8 1.5 Q10 -1 19.2 1.5 Q19.5 3.5 12 10 V19 L8 16.5 V10 Q0.5 3.5 0.8 1.5 Z" fill="none" stroke="#a6a6a6" stroke-width="1.1"/><path d="M1 2.2 Q10 5 19 2.2" fill="none" stroke="#a6a6a6" stroke-width="0.8"/></svg>
<svg style="left:51.9px;top:311.5px;" width="20" height="20" viewBox="0 0 20 20"><rect x="0.6" y="0.6" width="18.8" height="18.8" fill="#a6a6a6"/><rect x="1.5" y="1.5" width="4.9" height="4.9" fill="#2e2e2e"/><rect x="7.6" y="1.5" width="4.9" height="4.9" fill="#2e2e2e"/><rect x="13.6" y="1.5" width="4.9" height="4.9" fill="#2e2e2e"/><rect x="1.5" y="7.6" width="4.9" height="4.9" fill="#2e2e2e"/><rect x="1.5" y="13.6" width="4.9" height="4.9" fill="#2e2e2e"/><rect x="7.6" y="13.6" width="4.9" height="4.9" fill="#2e2e2e"/><rect x="13.6" y="13.6" width="4.9" height="4.9" fill="#2e2e2e"/><rect x="7.6" y="7.6" width="10.9" height="4.9" fill="#8a8a8a"/></svg>
<svg style="left:107.2px;top:311.5px;" width="20" height="20" viewBox="0 0 20 20"><rect x="0.6" y="0.6" width="18.8" height="18.8" fill="none" stroke="#a6a6a6" stroke-width="1.1"/><path d="M0.6 6 H19.4 M0.6 14 H19.4" stroke="#a6a6a6" stroke-width="1"/><path d="M3 3 H5.5 M3 16.8 H5.5" stroke="#a6a6a6" stroke-width="1"/></svg>
<svg style="left:51.9px;top:361.9px;" width="20" height="19" viewBox="0 0 20 19"><rect x="0.6" y="0.6" width="18.8" height="18" fill="none" stroke="#a6a6a6" stroke-width="1.1"/><path d="M4.5 18.6 V4.5 H17 V8 H11 V4.5" fill="none" stroke="#a6a6a6" stroke-width="1"/><rect x="11.5" y="5" width="5" height="2.5" fill="#a6a6a6"/></svg>
<svg style="left:107.2px;top:366.2px;" width="20" height="8" viewBox="0 0 20 8"><circle cx="3.6" cy="3.6" r="3" fill="#a6a6a6"/><circle cx="10" cy="3.6" r="2.8" fill="none" stroke="#a6a6a6" stroke-width="0.9"/><circle cx="10" cy="3.6" r="1" fill="#a6a6a6"/><circle cx="16.2" cy="3.6" r="2.8" fill="none" stroke="#a6a6a6" stroke-width="0.9"/></svg>
<div style="left:52px;top:412.3px;width:20px;height:3.2px;background:#a6a6a6;"></div>
<div style="left:107.2px;top:413px;width:20.0px;height:1px;border-top:1.2px dashed #a6a6a6;"></div>
<svg style="left:664px;top:57.5px;" width="10" height="12" viewBox="0 0 10 12"><path d="M7.2 0.9 L9.1 2.3 L3.2 10.6 L0.9 11.4 L1.3 9.2 Z" fill="none" stroke="#fff" stroke-width="1.3" stroke-linejoin="round"/></svg>
<svg style="left:696.5px;top:58px;" width="13" height="11.5" viewBox="0 0 13 11.5"><path d="M6 0.8 C2.8 0.8 0.6 3 0.6 5.6 C0.6 8.4 2.8 10.4 5.4 10.4 C6.5 10.4 6.8 9.6 6.4 8.8 C6 8 6.4 7.2 7.4 7.2 H8.6 C10.2 7.2 11 6.2 11 4.8 C11 2.6 8.8 0.8 6 0.8 Z" fill="none" stroke="#a8a8a8" stroke-width="0.95"/><g fill="#a8a8a8"><circle cx="3.1" cy="4.8" r="0.75"/><circle cx="4.5" cy="2.9" r="0.75"/><circle cx="7" cy="2.5" r="0.75"/><circle cx="3.4" cy="7.4" r="0.75"/></g><path d="M12.4 0.6 L6.6 8.6" stroke="#111" stroke-width="2.4"/><path d="M12.4 0.6 L6.6 8.6" stroke="#a8a8a8" stroke-width="0.95"/></svg>
<svg style="left:730px;top:58.2px;" width="12" height="11.5" viewBox="0 0 12 11.5"><circle cx="4.7" cy="4.7" r="4" fill="none" stroke="#a8a8a8" stroke-width="1.05"/><path d="M5.6 5.2 L11.2 7.5 L9.1 8.3 L11 10.3 L10.1 11.1 L8.3 9.1 L7.5 11.1 Z" fill="#111" stroke="#a8a8a8" stroke-width="0.9" stroke-linejoin="round"/></svg>
<svg style="left:763.5px;top:59px;" width="12" height="8.5" viewBox="0 0 12 8.5"><rect x="0.5" y="0.5" width="8.5" height="6" rx="0.8" fill="none" stroke="#aaa" stroke-width="1"/><path d="M2.5 8 H7" stroke="#aaa" stroke-width="1"/><rect x="7.5" y="2.5" width="3.8" height="5.6" rx="0.6" fill="#111" stroke="#aaa" stroke-width="1"/></svg>
<svg style="left:660.5px;top:156px;" width="13" height="14" viewBox="0 0 13 14"><rect x="0.8" y="0.8" width="11.4" height="12.4" fill="none" stroke="#cfcfcf" stroke-width="0.9" stroke-dasharray="1 1"/><path d="M2.5 3.3 H10.5 M2.5 6 H10.5 M2.5 8.7 H10.5" stroke="#e0e0e0" stroke-width="1.3"/><path d="M2.5 11 H6" stroke="#aaa" stroke-width="0.9"/></svg>
<svg style="left:795px;top:337px;" width="9" height="8.5" viewBox="0 0 9 8.5"><g fill="none" stroke="#dcdcdc" stroke-width="1.1"><rect x="3.4" y="1.2" width="5" height="2.6" rx="1.3" transform="rotate(-45 5.9 2.5)"/><rect x="0.6" y="4.4" width="5" height="2.6" rx="1.3" transform="rotate(-45 3.1 5.7)"/></g></svg>
<div style="left:165.8px;top:59px;width:1.6px;height:386px;background:repeating-linear-gradient(to bottom, rgba(200,200,200,.45) 0 0.6px, transparent 0.6px 6.1px);"></div>
<div class="t" style="left:155.2px;top:59.3px;width:16px;height:5px;font-size:5px;line-height:5px;color:#404040;transform:rotate(90deg);transform-origin:8px 2.5px;text-align:center">0</div>
<div class="t" style="left:155.2px;top:89.69999999999999px;width:16px;height:5px;font-size:5px;line-height:5px;color:#404040;transform:rotate(90deg);transform-origin:8px 2.5px;text-align:center">50</div>
<div class="t" style="left:155.2px;top:120.1px;width:16px;height:5px;font-size:5px;line-height:5px;color:#404040;transform:rotate(90deg);transform-origin:8px 2.5px;text-align:center">100</div>
<div class="t" style="left:155.2px;top:150.5px;width:16px;height:5px;font-size:5px;line-height:5px;color:#404040;transform:rotate(90deg);transform-origin:8px 2.5px;text-align:center">150</div>
<div class="t" style="left:155.2px;top:180.89999999999998px;width:16px;height:5px;font-size:5px;line-height:5px;color:#404040;transform:rotate(90deg);transform-origin:8px 2.5px;text-align:center">200</div>
<div class="t" style="left:155.2px;top:211.3px;width:16px;height:5px;font-size:5px;line-height:5px;color:#404040;transform:rotate(90deg);transform-origin:8px 2.5px;text-align:center">250</div>
<div class="t" style="left:155.2px;top:241.7px;width:16px;height:5px;font-size:5px;line-height:5px;color:#404040;transform:rotate(90deg);transform-origin:8px 2.5px;text-align:center">300</div>
<div class="t" style="left:155.2px;top:272.09999999999997px;width:16px;height:5px;font-size:5px;line-height:5px;color:#404040;transform:rotate(90deg);transform-origin:8px 2.5px;text-align:center">350</div>
<div class="t" style="left:155.2px;top:302.5px;width:16px;height:5px;font-size:5px;line-height:5px;color:#404040;transform:rotate(90deg);transform-origin:8px 2.5px;text-align:center">400</div>
<div class="t" style="left:155.2px;top:332.9px;width:16px;height:5px;font-size:5px;line-height:5px;color:#404040;transform:rotate(90deg);transform-origin:8px 2.5px;text-align:center">450</div>
<div class="t" style="left:155.2px;top:363.3px;width:16px;height:5px;font-size:5px;line-height:5px;color:#404040;transform:rotate(90deg);transform-origin:8px 2.5px;text-align:center">500</div>
<div class="t" style="left:155.2px;top:393.7px;width:16px;height:5px;font-size:5px;line-height:5px;color:#404040;transform:rotate(90deg);transform-origin:8px 2.5px;text-align:center">550</div>
<div class="t" style="left:155.2px;top:424.09999999999997px;width:16px;height:5px;font-size:5px;line-height:5px;color:#404040;transform:rotate(90deg);transform-origin:8px 2.5px;text-align:center">600</div>
</body></html>
